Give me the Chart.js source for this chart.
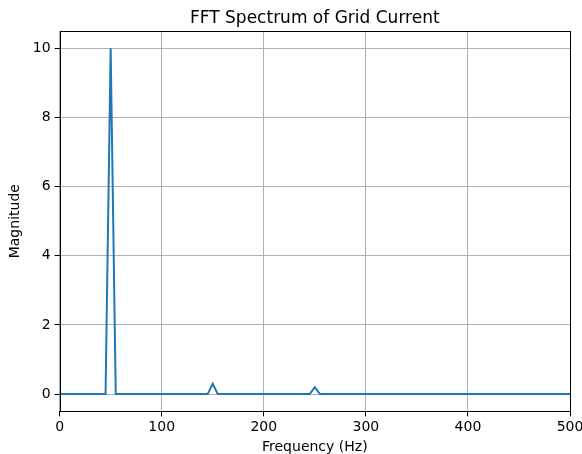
<!DOCTYPE html>
<html>
<head>
<meta charset="utf-8">
<script src="https://cdn.jsdelivr.net/npm/chart.js@4"></script>
<style>
  html, body { margin: 0; padding: 0; background: #fff; }
  #wrap { width: 582px; height: 454px; }
</style>
</head>
<body>
<div id="wrap"><canvas id="fftChart"></canvas></div>
<script>
const frequencies = [
  0, 5, 10, 15, 20, 25, 30, 35, 40, 45, 50, 55, 60, 65, 70, 75, 80, 85, 90, 95,
  100, 105, 110, 115, 120, 125, 130, 135, 140, 145, 150, 155, 160, 165, 170, 175, 180, 185, 190, 195,
  200, 205, 210, 215, 220, 225, 230, 235, 240, 245, 250, 255, 260, 265, 270, 275, 280, 285, 290, 295,
  300, 305, 310, 315, 320, 325, 330, 335, 340, 345, 350, 355, 360, 365, 370, 375, 380, 385, 390, 395,
  400, 405, 410, 415, 420, 425, 430, 435, 440, 445, 450, 455, 460, 465, 470, 475, 480, 485, 490, 495,
  500
];
const magnitudes = [
  0, 0, 0, 0, 0, 0, 0, 0, 0, 0, 10, 0, 0, 0, 0, 0, 0, 0, 0, 0,
  0, 0, 0, 0, 0, 0, 0, 0, 0, 0, 0.3, 0, 0, 0, 0, 0, 0, 0, 0, 0,
  0, 0, 0, 0, 0, 0, 0, 0, 0, 0, 0.2, 0, 0, 0, 0, 0, 0, 0, 0, 0,
  0, 0, 0, 0, 0, 0, 0, 0, 0, 0, 0, 0, 0, 0, 0, 0, 0, 0, 0, 0,
  0, 0, 0, 0, 0, 0, 0, 0, 0, 0, 0, 0, 0, 0, 0, 0, 0, 0, 0, 0,
  0
];
const xTicks = [0, 100, 200, 300, 400, 500];
const yTicks = [0, 2, 4, 6, 8, 10];

const FONT = "'DejaVu Sans', sans-serif";

// matplotlib-like frame + title centred on the axes
const frame = {
  id: 'frame',
  afterDraw(chart) {
    const { ctx, chartArea: a } = chart;
    ctx.save();
    ctx.strokeStyle = '#000';
    ctx.lineWidth = 1;
    ctx.strokeRect(Math.round(a.left) + 0.5, Math.round(a.top) + 0.5,
      Math.round(a.right - a.left), Math.round(a.bottom - a.top));
    ctx.fillStyle = '#000';
    ctx.font = '17px ' + FONT;
    ctx.textAlign = 'center';
    ctx.textBaseline = 'alphabetic';
    ctx.fillText('FFT Spectrum of Grid Current', (a.left + a.right) / 2, a.top - 8);
    ctx.restore();
  }
};

new Chart(document.getElementById('fftChart'), {
  type: 'line',
  data: {
    datasets: [{
      data: frequencies.map((f, i) => ({ x: f, y: magnitudes[i] })),
      borderColor: '#1f77b4',
      borderWidth: 2,
      pointRadius: 0,
      tension: 0,
      fill: false
    }]
  },
  options: {
    responsive: true,
    maintainAspectRatio: false,
    animation: false,
    layout: { padding: { top: 31, right: 0, left: 7, bottom: -2 }},
    plugins: { legend: { display: false }, tooltip: { enabled: false }},
    scales: {
      x: {
        type: 'linear',
        min: 0, max: 500,
        afterBuildTicks: s => { s.ticks = xTicks.map(v => ({ value: v })); },
        afterFit: s => { s.paddingRight = 12; },
        ticks: { color: '#000', font: { family: FONT, size: 14 }, padding: 3, maxRotation: 0 },
        grid: { color: '#b0b0b0', tickColor: '#000', tickLength: 5, lineWidth: 1 },
        border: { display: false },
        title: { display: true, text: 'Frequency (Hz)', color: '#000', font: { family: FONT, size: 14 }, padding: { top: 0, bottom: 0 }}
      },
      y: {
        min: -0.5, max: 10.5,
        afterBuildTicks: s => { s.ticks = yTicks.map(v => ({ value: v })); },
        ticks: { color: '#000', font: { family: FONT, size: 14 }, padding: 4 },
        grid: { color: '#b0b0b0', tickColor: '#000', tickLength: 5, lineWidth: 1 },
        border: { display: false },
        title: { display: true, text: 'Magnitude', color: '#000', font: { family: FONT, size: 14 }, padding: { top: 0, bottom: 5 }}
      }
    }
  },
  plugins: [frame]
});
</script>
</body>
</html>
